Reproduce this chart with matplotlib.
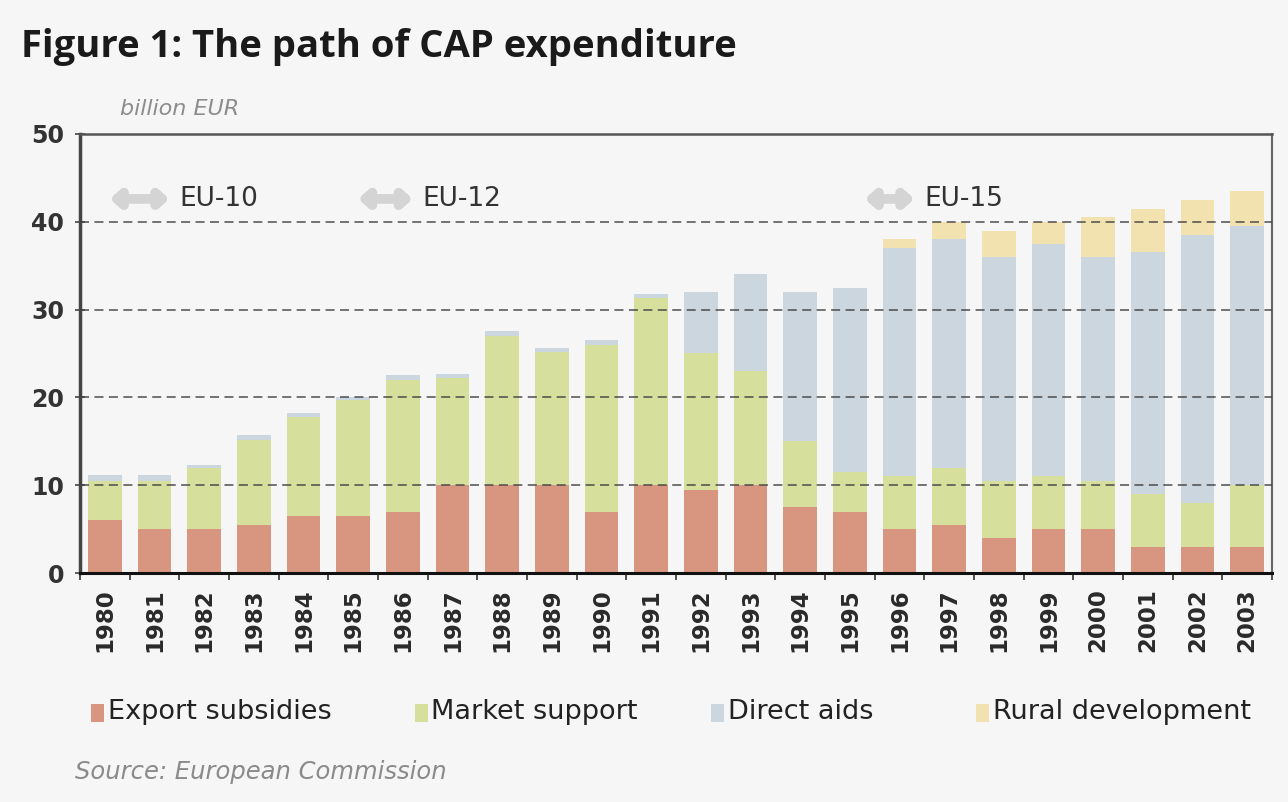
import matplotlib
matplotlib.use("Agg")
import matplotlib.pyplot as plt
from matplotlib.patches import Rectangle
import numpy as np

# data (billion EUR)
years = [str(y) for y in range(1980, 2004)]
export_subsidies = [6, 5, 5, 5.5, 6.5, 6.5, 7, 10, 10, 10, 7, 10,
                    9.5, 10, 7.5, 7, 5, 5.5, 4, 5, 5, 3, 3, 3]
market_support = [4.5, 5.5, 7, 9.7, 11.3, 13.2, 15, 12.2, 17, 15.2, 19, 21.3,
                  15.5, 13, 7.5, 4.5, 6, 6.5, 6.5, 6, 5.5, 6, 5, 7]
direct_aids = [0.7, 0.7, 0.3, 0.5, 0.4, 0.3, 0.5, 0.5, 0.6, 0.4, 0.5, 0.5,
               7, 11, 17, 21, 26, 26, 25.5, 26.5, 25.5, 27.5, 30.5, 29.5]
rural_development = [0, 0, 0, 0, 0, 0, 0, 0, 0, 0, 0, 0,
                     0, 0, 0, 0, 1, 2, 3, 2.5, 4.5, 5, 4, 4]

series_names = ["Export subsidies", "Market support", "Direct aids", "Rural development"]
series_colors = ["#d8957f", "#d6df9c", "#ccd6df", "#f2e2b0"]

# enlargement markers: label, arrow start/end (bar index)
enlargements = ["EU-10", "EU-12", "EU-15"]
enl_start = [0.1, 5.1, 15.3]
enl_end = [1.3, 6.2, 16.3]

bg = "#f6f6f6"
fig = plt.figure(figsize=(12.88, 8.02), dpi=100, facecolor=bg)
ax = fig.add_axes([0.0621, 0.2855, 0.9255, 0.5475], facecolor=bg)

x = np.arange(len(years))
bottom = np.zeros(len(years))
for vals, col in zip([export_subsidies, market_support, direct_aids, rural_development], series_colors):
    ax.bar(x, vals, width=0.68, bottom=bottom, color=col, edgecolor="none", zorder=2)
    bottom += np.array(vals)

ax.set_xlim(-0.5, len(years) - 0.5)
ax.set_ylim(0, 50)

# dashed gridlines
for v in [10, 20, 30, 40]:
    ax.axhline(v, color="#444444", lw=1.3, ls=(0, (5, 3)), zorder=3, alpha=0.8)

ax.set_yticks([0, 10, 20, 30, 40, 50])
ax.set_yticklabels(["0", "10", "20", "30", "40", "50"], fontsize=17, fontweight="bold", color="#333333")
ax.tick_params(axis="y", direction="inout", length=7, width=1.2, color="#444444", pad=8)

ax.set_xticks(x)
ax.set_xticklabels(years, rotation=90, fontsize=16.5, fontweight="bold", color="#2a2a2a")
ax.set_xticks(np.arange(-0.5, len(years), 1), minor=True)
ax.tick_params(axis="x", which="major", length=0, pad=11)
ax.tick_params(axis="x", which="minor", direction="out", length=5, width=1.2, color="#333333")

ax.spines["left"].set_linewidth(2.5)
ax.spines["left"].set_color("#444444")
ax.spines["bottom"].set_linewidth(2.2)
ax.spines["bottom"].set_color("#111111")
ax.spines["top"].set_linewidth(1.8)
ax.spines["top"].set_color("#555555")
ax.spines["right"].set_linewidth(1.5)
ax.spines["right"].set_color("#666666")

# enlargement arrows
for lab, x0, x1 in zip(enlargements, enl_start, enl_end):
    ax.annotate("", xy=(x1, 42.6), xytext=(x0, 42.6),
                arrowprops=dict(arrowstyle="<|-|>,head_length=0.5,head_width=0.45",
                                color="#d4d4d4", lw=7, shrinkA=0, shrinkB=0), zorder=4)
    ax.text(x1 + 0.2, 42.6, lab, fontsize=19, va="center", ha="left", color="#333333", zorder=4)

# title and labels
fig.text(0.016, 0.942, "Figure 1: The path of CAP expenditure", fontsize=27.5,
         fontweight="bold", family="Open Sans", color="#1a1a1a", va="center", ha="left")
fig.text(0.093, 0.864, "billion EUR", fontsize=16, style="italic", color="#8c8c8c",
         va="center", ha="left")

# legend
leg_x = [0.071, 0.322, 0.552, 0.758]
leg_y = 0.112
for name, col, lx in zip(series_names, series_colors, leg_x):
    fig.add_artist(Rectangle((lx, leg_y - 0.012), 0.01, 0.022, transform=fig.transFigure,
                             color=col, lw=0))
    fig.text(lx + 0.013, leg_y, name, fontsize=19.5, color="#222222", va="center", ha="left")

fig.text(0.058, 0.037, "Source: European Commission", fontsize=17.5, style="italic",
         color="#8a8a8a", va="center", ha="left")

fig.savefig("out.png", dpi=100, facecolor=bg)
